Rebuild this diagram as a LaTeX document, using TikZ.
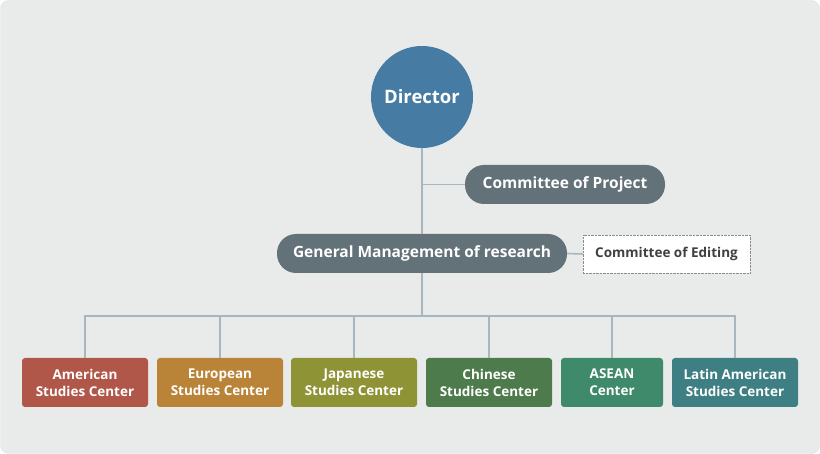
\documentclass[tikz,border=0pt]{standalone}
\usepackage{fontspec}
\setmainfont{Open Sans}
\begin{document}
\begin{tikzpicture}[x=1pt,y=-1pt,
  conn/.style={draw=lineC,line width=1.6pt},
  pill/.style={rounded corners=19pt,fill=mgmt,text=white,font=\fontsize{15.5}{17}\selectfont\bfseries,minimum height=39pt,inner sep=0pt},
  center/.style={rounded corners=3pt,text=white,font=\fontsize{13.5}{17}\selectfont\bfseries,minimum height=49pt,minimum width=126pt,align=center,inner sep=0pt}]
\definecolor{bgC}{HTML}{E9EBEB}
\definecolor{lineC}{HTML}{A7B7C1}
\definecolor{mgmt}{HTML}{637178}
\definecolor{dir}{HTML}{467BA3}
\definecolor{cA}{HTML}{B0574A}
\definecolor{cB}{HTML}{B98437}
\definecolor{cC}{HTML}{8E9435}
\definecolor{cD}{HTML}{4E7B4C}
\definecolor{cE}{HTML}{3F8A6B}
\definecolor{cF}{HTML}{3E7F83}
\useasboundingbox (0,0) rectangle (820,454);
\fill[bgC,draw=black!12,rounded corners=8pt] (0.5,0.5) rectangle (819.5,453.5);
\node[circle,fill=dir,minimum size=102pt,text=white,font=\fontsize{18.5}{21}\selectfont\bfseries] (d) at (422,97) {Director};
\node[pill,minimum width=200pt] (cp) at (565,184.5) {Committee of Project};
\node[pill,minimum width=290pt] (gm) at (422,253.5) {General Management of research};
\node[draw=black!45,densely dotted,fill=white,minimum width=167pt,minimum height=38pt,font=\fontsize{13.5}{16}\selectfont\bfseries,text=black!75,inner sep=0pt] (ce) at (666.5,254) {Committee of Editing};
\node[center,fill=cA] (a) at (85,382.5) {American\\Studies Center};
\node[center,fill=cB] (b) at (220,382.5) {European\\Studies Center};
\node[center,fill=cC] (c) at (354,382.5) {Japanese\\Studies Center};
\node[center,fill=cD] (e) at (489,382.5) {Chinese\\Studies Center};
\node[center,fill=cE,minimum width=102pt] (f) at (612,382.5) {ASEAN\\Center};
\node[center,fill=cF] (g) at (735,382.5) {Latin American\\Studies Center};
\coordinate (j) at (422,316);
\draw[conn] (d.south) -- (gm.north);
\draw[conn] (422,184.5) -- (cp.west);
\draw[conn] (gm.east) -- (ce.west);
\draw[conn] (gm.south) -- (j);
\draw[conn] (a.north) |- (j) -| (g.north);
\foreach \n in {b,c,e,f} \draw[conn] (\n.north) -- (\n.north |- j);
\end{tikzpicture}
\end{document}
